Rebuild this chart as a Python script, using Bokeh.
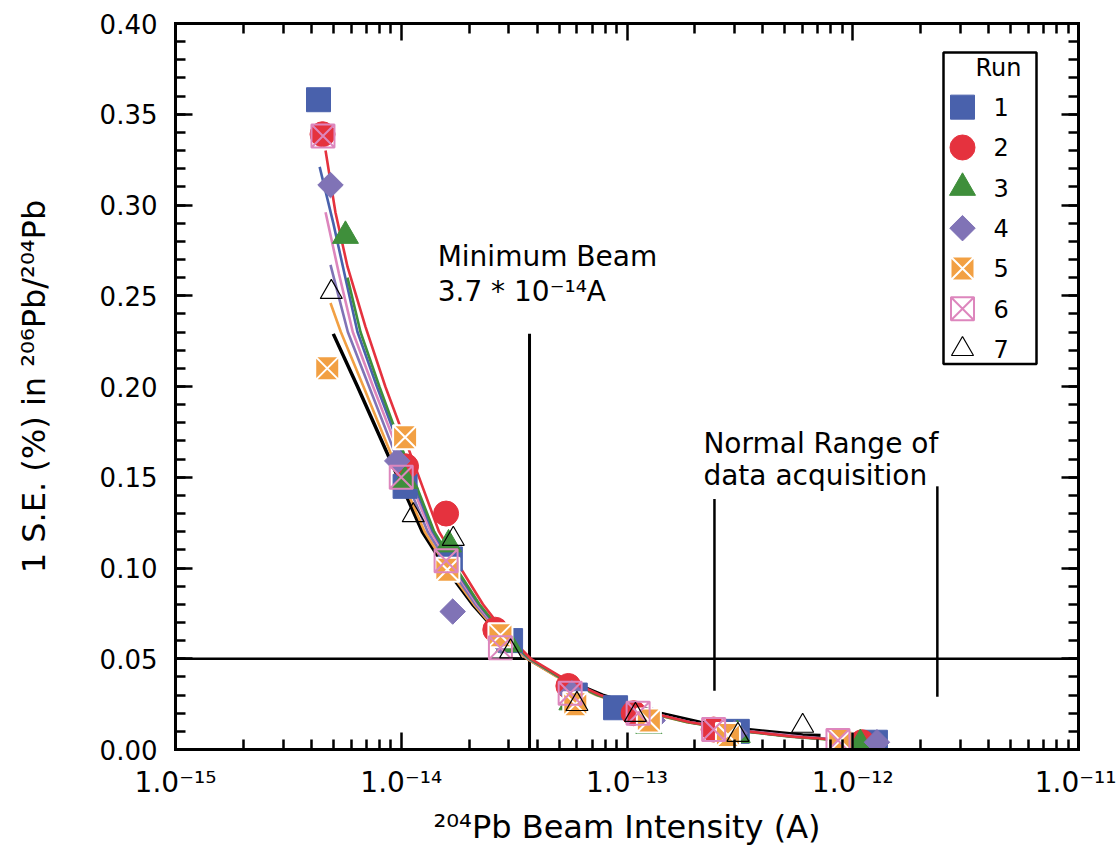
import math
from bokeh.plotting import figure
from bokeh.models import (FixedTicker, SingleIntervalTicker, LogAxis, LinearAxis, Span, Label,
                          PrintfTickFormatter, CustomJSTickFormatter, Range1d, BoxAnnotation,
                          LinearScale)
from bokeh.core.properties import value
from bokeh.embed import file_html
from bokeh.resources import INLINE

FONT = "DejaVu Sans"

# ---------------- data ----------------
runs = ["1", "2", "3", "4", "5", "6", "7"]

# measured points (204Pb beam intensity in A, 1 S.E. %)
run1_x = [4.3e-15, 1.04e-14, 1.65e-14, 3.05e-14, 5.9e-14, 8.9e-14, 3.08e-13, 1.26e-12]
run1_y = [0.358, 0.145, 0.105, 0.060, 0.030, 0.023, 0.010, 0.004]
run2_x = [4.48e-15, 1.05e-14, 1.58e-14, 2.61e-14, 5.5e-14, 1.07e-13, 2.42e-13, 1.1e-12]
run2_y = [0.339, 0.156, 0.130, 0.066, 0.035, 0.020, 0.011, 0.004]
run3_x = [5.66e-15, 1.04e-14, 1.62e-14, 3.0e-14, 5.7e-14, 1.25e-13, 3.08e-13, 1.08e-12]
run3_y = [0.283, 0.148, 0.113, 0.058, 0.026, 0.013, 0.008, 0.003]
run4_x = [4.86e-15, 9.6e-15, 1.69e-14, 2.75e-14, 5.7e-14, 1.3e-13, 3.0e-13, 1.28e-12]
run4_y = [0.311, 0.159, 0.076, 0.060, 0.031, 0.016, 0.009, 0.004]
run5_x = [4.7e-15, 1.04e-14, 1.6e-14, 2.75e-14, 5.9e-14, 1.25e-13, 2.8e-13, 8.8e-13]
run5_y = [0.210, 0.172, 0.099, 0.063, 0.025, 0.016, 0.008, 0.005]
run6_x = [4.5e-15, 1.0e-14, 1.58e-14, 2.75e-14, 5.6e-14, 1.12e-13, 2.42e-13, 8.6e-13]
run6_y = [0.338, 0.150, 0.104, 0.056, 0.031, 0.020, 0.011, 0.005]
run7_x = [4.9e-15, 1.13e-14, 1.7e-14, 3.05e-14, 6.0e-14, 1.09e-13, 3.1e-13, 6.0e-13]
run7_y = [0.252, 0.129, 0.116, 0.054, 0.025, 0.019, 0.008, 0.013]

# running S.E. curves
curve1_x = [4.35e-15, 5.0e-15, 5.7e-15, 6.4e-15, 7.8e-15, 1.03e-14, 1.38e-14, 1.72e-14, 2.2e-14,
            2.75e-14, 3.7e-14, 5.0e-14, 7.5e-14, 1.3e-13, 1.9e-13, 3.4e-13, 5.5e-13, 9.5e-13]
curve1_y = [0.321, 0.290, 0.258, 0.230, 0.200, 0.160, 0.120, 0.100, 0.080,
            0.065, 0.050, 0.040, 0.030, 0.020, 0.015, 0.010, 0.007, 0.005]
curve2_x = [4.62e-15, 5.11e-15, 5.78e-15, 6.94e-15, 8.5e-15, 1.12e-14, 1.47e-14, 1.83e-14, 2.3e-14,
            2.85e-14, 3.75e-14, 5.1e-14, 7.6e-14, 1.3e-13, 1.9e-13, 3.4e-13, 5.5e-13, 9.5e-13]
curve2_y = [0.330, 0.296, 0.266, 0.233, 0.200, 0.160, 0.120, 0.100, 0.080,
            0.065, 0.050, 0.040, 0.030, 0.020, 0.015, 0.010, 0.007, 0.005]
curve3_x = [5.78e-15, 6.6e-15, 8.0e-15, 1.05e-14, 1.4e-14, 1.75e-14, 2.22e-14, 2.78e-14,
            3.7e-14, 5.0e-14, 7.4e-14, 1.28e-13, 1.85e-13, 3.3e-13, 5.3e-13, 9.0e-13]
curve3_y = [0.260, 0.230, 0.200, 0.160, 0.120, 0.100, 0.080, 0.065,
            0.050, 0.040, 0.030, 0.020, 0.015, 0.010, 0.007, 0.005]
curve4_x = [4.86e-15, 5.8e-15, 7.2e-15, 9.6e-15, 1.31e-14, 1.65e-14, 2.13e-14, 2.7e-14,
            3.65e-14, 5.0e-14, 7.4e-14, 1.28e-13, 1.9e-13, 3.4e-13, 5.6e-13, 9.5e-13]
curve4_y = [0.267, 0.230, 0.200, 0.160, 0.120, 0.100, 0.080, 0.065,
            0.050, 0.040, 0.030, 0.020, 0.015, 0.010, 0.007, 0.005]
curve5_x = [4.86e-15, 5.4e-15, 6.8e-15, 9.2e-15, 1.27e-14, 1.6e-14, 2.1e-14, 2.65e-14,
            3.6e-14, 4.9e-14, 7.3e-14, 1.25e-13, 1.85e-13, 3.4e-13, 5.5e-13, 9.0e-13]
curve5_y = [0.246, 0.230, 0.200, 0.160, 0.120, 0.100, 0.080, 0.065,
            0.050, 0.040, 0.030, 0.020, 0.015, 0.010, 0.007, 0.005]
curve6_x = [4.62e-15, 5.3e-15, 6.1e-15, 7.5e-15, 1.0e-14, 1.35e-14, 1.7e-14, 2.17e-14, 2.72e-14,
            3.7e-14, 5.0e-14, 7.5e-14, 1.3e-13, 1.9e-13, 3.5e-13, 6.0e-13, 1.0e-12]
curve6_y = [0.296, 0.262, 0.230, 0.200, 0.160, 0.120, 0.100, 0.080, 0.065,
            0.050, 0.040, 0.030, 0.020, 0.015, 0.010, 0.007, 0.005]
curve7_x = [5.0e-15, 6.4e-15, 8.9e-15, 1.24e-14, 1.57e-14, 2.07e-14, 2.65e-14, 3.65e-14,
            5.0e-14, 7.8e-14, 1.4e-13, 2.1e-13, 3.4e-13, 6.0e-13, 7.2e-13]
curve7_y = [0.229, 0.200, 0.160, 0.120, 0.100, 0.080, 0.065, 0.050,
            0.040, 0.030, 0.020, 0.015, 0.011, 0.008, 0.0077]

# reference lines / annotations
se_limit = 0.05
min_beam = 3.7e-14
min_beam_top = 0.229
range_x = [2.44e-13, 2.37e-12]
range_y0 = [0.0324, 0.029]
range_y1 = [0.138, 0.145]

x_major = [1e-15, 1e-14, 1e-13, 1e-12, 1e-11]
x_labels = ["1.0\u207b\u00b9\u2075", "1.0\u207b\u00b9\u2074", "1.0\u207b\u00b9\u00b3",
            "1.0\u207b\u00b9\u00b2", "1.0\u207b\u00b9\u00b9"]
x_minor = [m * d for d in x_major[:-1] for m in range(2, 10)]

BLUE = "#4961AC"
RED = "#E5323E"
GREEN = "#3F8F3B"
PURPLE = "#8073B6"
ORANGE = "#F2A043"
PINK = "#DD86BD"

# ---------------- figure ----------------
p = figure(width=1116, height=848, x_axis_type="log", x_range=(1e-15, 1e-11), y_range=(0, 0.40),
           output_backend="svg", toolbar_location=None,
           min_border_left=175, min_border_right=38, min_border_top=23, min_border_bottom=96)
p.outline_line_color = None
p.xgrid.visible = False
p.ygrid.visible = False
p.background_fill_color = "white"
p.border_fill_color = "white"

xticker = FixedTicker(ticks=x_major, minor_ticks=x_minor)
yticker = SingleIntervalTicker(interval=0.05, num_minor_ticks=5)

def style_axis(ax):
    ax.axis_line_width = 3
    ax.axis_line_cap = "square"
    ax.major_tick_line_width = 2.5
    ax.minor_tick_line_width = 2.5
    ax.major_tick_in = 17
    ax.major_tick_out = 0
    ax.minor_tick_in = 10
    ax.minor_tick_out = 0
    ax.major_label_text_font = FONT
    ax.major_label_text_font_size = "26px"
    ax.major_label_text_color = "black"
    ax.axis_label_text_font = FONT
    ax.axis_label_text_font_size = "32px"
    ax.axis_label_text_font_style = "normal"
    ax.axis_label_text_color = "black"

xa = p.xaxis[0]
xa.ticker = xticker
style_axis(xa)
xa.major_label_text_font_size = "28px"
xa.major_label_overrides = dict(zip(x_major, x_labels))
xa.major_label_standoff = 16
xa.axis_label = "\u00b2\u2070\u2074Pb Beam Intensity (A)"
xa.axis_label_standoff = 6

ya = p.yaxis[0]
ya.ticker = yticker
style_axis(ya)
ya.formatter = PrintfTickFormatter(format="%.2f")
ya.major_label_standoff = 18
ya.axis_label = "1 S.E. (%) in \u00b2\u2070\u2076Pb/\u00b2\u2070\u2074Pb"
ya.axis_label_standoff = 44

blank = CustomJSTickFormatter(code="return ''")
top = LogAxis(ticker=xticker, formatter=blank, major_label_standoff=0)
style_axis(top)
top.major_label_text_font_size = "0px"
p.add_layout(top, "above")
right = LinearAxis(ticker=yticker, formatter=blank, major_label_standoff=0)
style_axis(right)
right.major_label_text_font_size = "0px"
p.add_layout(right, "right")

# reference lines
p.add_layout(Span(location=se_limit, dimension="width", line_color="black", line_width=2.5, level="underlay"))
p.segment(x0=[min_beam], y0=[0], x1=[min_beam], y1=[min_beam_top], line_color="black", line_width=3)
p.segment(x0=range_x, y0=range_y0, x1=range_x, y1=range_y1, line_color="black", line_width=2.5)

# curves
p.line(curve7_x, curve7_y, line_color="black", line_width=3.5)
p.line(curve5_x, curve5_y, line_color=ORANGE, line_width=2.6)
p.line(curve4_x, curve4_y, line_color=PURPLE, line_width=2.6)
p.line(curve6_x, curve6_y, line_color=PINK, line_width=2.6)
p.line(curve1_x, curve1_y, line_color=BLUE, line_width=2.6)
p.line(curve3_x, curve3_y, line_color=GREEN, line_width=2.6)
p.line(curve2_x, curve2_y, line_color=RED, line_width=2.6)

# marker styles
styles = [
    dict(marker="square", size=24, fill_color=BLUE, line_color=BLUE),
    dict(marker="circle", size=25, fill_color=RED, line_color=RED),
    dict(marker="triangle", size=26, fill_color=GREEN, line_color=GREEN),
    dict(marker="square", size=18, angle=math.pi / 4, fill_color=PURPLE, line_color=PURPLE),
    dict(marker="square_x", size=24, fill_color=ORANGE, line_color="white", line_width=2),
    dict(marker="square_x", size=23, fill_alpha=0, line_color=PINK, line_width=2),
    dict(marker="triangle", size=22, fill_alpha=0, line_color="black", line_width=1.2),
]
xs = [run1_x, run2_x, run3_x, run4_x, run5_x, run6_x, run7_x]
ys = [run1_y, run2_y, run3_y, run4_y, run5_y, run6_y, run7_y]
for x, y, st in zip(xs, ys, styles):
    p.scatter(x, y, **st)

# ---------------- legend (run key) ----------------
# a pixel-like linear range pair for the key, rows indexed by run
p.extra_x_ranges = {"key_x": Range1d(-787, 116)}
p.extra_y_ranges = {"key_y": Range1d(15.926, -2.074)}
p.extra_x_scales = {"key_x": LinearScale()}
p.extra_y_scales = {"key_y": LinearScale()}
rows = list(range(len(runs)))
p.add_layout(BoxAnnotation(left=-19, right=74, top=-1.358, bottom=6.37,
                           x_range_name="key_x", y_range_name="key_y",
                           fill_color="white", fill_alpha=1, line_color="black", line_alpha=1,
                           line_width=2.5, level="underlay"))
for i, st in enumerate(styles):
    p.scatter([0], [rows[i]], x_range_name="key_x", y_range_name="key_y", **st)
p.text(x=[31] * len(runs), y=rows, text=runs, x_range_name="key_x", y_range_name="key_y",
       text_font=value(FONT), text_font_size=value("24px"), text_align=value("left"),
       text_baseline=value("middle"), text_color=value("black"))
p.text(x=[13], y=[-0.963], text=["Run"], x_range_name="key_x", y_range_name="key_y",
       text_font=value(FONT), text_font_size=value("24px"), text_align=value("left"),
       text_baseline=value("middle"), text_color=value("black"))

# annotations
ann = dict(text_font=FONT, text_font_size="28px", text_color="black", text_baseline="alphabetic")
p.add_layout(Label(x=1.45e-14, y=0.2716, text="Minimum Beam", **ann))
p.add_layout(Label(x=1.45e-14, y=0.2524, text="3.7 * 10\u207b\u00b9\u2074A", **ann))
p.add_layout(Label(x=2.18e-13, y=0.1684, text="Normal Range of", **ann))
p.add_layout(Label(x=2.18e-13, y=0.1509, text="data acquisition", **ann))

open("out.html", "w").write(file_html(p, INLINE))
